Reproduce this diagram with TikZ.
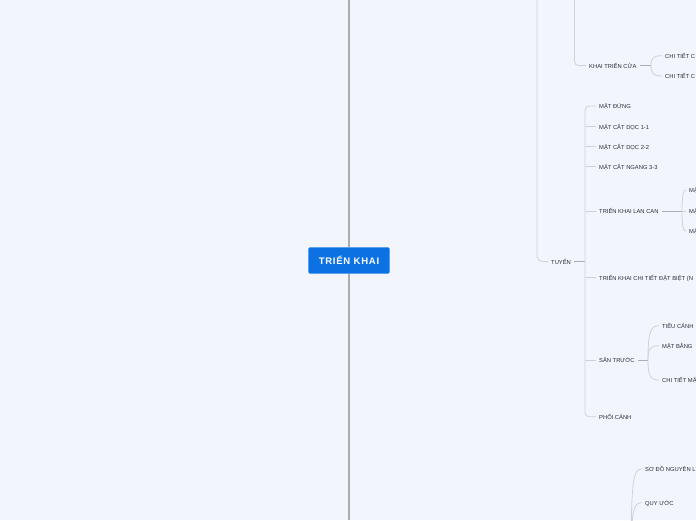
\documentclass[tikz,border=0pt]{standalone}
\usepackage{fontspec}
\setmainfont{Liberation Sans}
\newfontfamily\rootfont[LetterSpace=8]{Liberation Sans}
\definecolor{bg}{HTML}{F2F5FC}
\definecolor{txt}{HTML}{2A2D35}
\definecolor{linec}{HTML}{CDD1DA}
\definecolor{stubc}{HTML}{A9ADB5}
\definecolor{trunkc}{HTML}{ADADAD}
\definecolor{rootblue}{HTML}{0C72E3}
\begin{document}
\begin{tikzpicture}[x=1pt,y=-1pt,
  lbl/.style={anchor=west, font=\fontsize{5.8}{7}\selectfont, text=txt, inner xsep=3pt, inner ysep=0pt, text height=5.6pt, text depth=0pt},
  rootbox/.style={fill=rootblue, rounded corners=2pt, minimum width=81.4pt, minimum height=26.4pt, inner sep=0pt, text=white, font=\rootfont\bfseries\fontsize{9.5}{11}\selectfont},
  branch/.style={draw=linec, line width=0.8pt},
  stub/.style={draw=stubc, line width=1.2pt},
  trunk/.style={draw=trunkc, line width=2.8pt}]
\fill[bg] (0,0) rectangle (696,520);
\useasboundingbox (0,0) rectangle (696,520);
\clip (0,0) rectangle (696,520);

% nodes
\node[rootbox] (root) at (349,260.5) {TRIỂN KHAI};
\node[lbl] (khai) at (586,65.5) {KHAI TRIỂN CỬA};
\node[lbl] (ct1) at (662,55.7) {CHI TIẾT C};
\node[lbl] (ct2) at (662,76) {CHI TIẾT C};
\node[lbl] (tuyen) at (548,261.5) {TUYẾN};
\node[lbl] (md) at (596,106) {MẶT ĐỨNG};
\node[lbl] (mc1) at (596,126.7) {MẶT CẮT DỌC 1-1};
\node[lbl] (mc2) at (596,146.7) {MẶT CẮT DỌC 2-2};
\node[lbl] (mc3) at (596,166.7) {MẶT CẮT NGANG 3-3};
\node[lbl] (lc) at (596,211) {TRIỂN KHAI LAN CAN};
\node[lbl] (lc1) at (686,190) {MẶ};
\node[lbl] (lc2) at (686,211) {MẶ};
\node[lbl] (lc3) at (686,231) {MẶ};
\node[lbl] (ctdb) at (596,277.7) {TRIỂN KHAI CHI TIẾT ĐẶT BIỆT (N};
\node[lbl] (st) at (596,360) {SÂN TRƯỚC};
\node[lbl] (tc) at (659,325.7) {TIỂU CẢNH};
\node[lbl] (mb) at (659,345.7) {MẶT BẰNG};
\node[lbl] (ctm) at (659,380) {CHI TIẾT MẶ};
\node[lbl] (pc) at (596,416.7) {PHỐI CẢNH};
\node[lbl] (sd) at (642,469) {SƠ ĐỒ NGUYÊN LÝ};
\node[lbl] (qu) at (642,502.7) {QUY ƯỚC};

% coordinates
\coordinate (ctop) at (349,0);
\coordinate (cbot) at (349,520);
\coordinate (top1) at (537,0);
\coordinate (top2) at (574.5,0);
\coordinate (sp) at (585,261.5);
\coordinate (kj) at (651,65.5);
\coordinate (lcj) at (682,211);
\coordinate (stj) at (648,360);
\coordinate (bj) at (631,570);

% trunk
\draw[trunk] (ctop) -- (root.north);
\draw[trunk] (root.south) -- (cbot);

% connectors
\draw[branch, rounded corners=5pt] (top1) |- (tuyen.west);
\draw[branch, rounded corners=4pt] (top2) |- (khai.west);
\draw[stub] (tuyen.east) -- (sp);
\draw[branch, rounded corners=4pt] (md.west) -| (sp) |- (pc.west);
\foreach \n in {mc1,mc2,mc3,lc,ctdb,st} \draw[branch] (sp |- \n.west) -- (\n.west);

\draw[stub, line width=0.9pt] (khai.east) -- (kj);
\draw[branch] (kj) .. controls (651,58) and (653,55.7) .. (ct1.west);
\draw[branch] (kj) .. controls (651,73) and (653,76) .. (ct2.west);

\draw[stub, line width=0.9pt] (lc.east) -- (lcj);
\draw[branch] (lcj) -- (lc2.west);
\draw[branch] (lcj) .. controls (682,195) and (683.5,190) .. (lc1.west);
\draw[branch] (lcj) .. controls (682,227) and (683.5,231) .. (lc3.west);

\draw[stub, line width=0.9pt] (st.east) -- (stj);
\draw[branch] (stj) .. controls (648,331) and (651,325.7) .. (tc.west);
\draw[branch] (stj) .. controls (648,349) and (650,345.7) .. (mb.west);
\draw[branch] (stj) .. controls (648,375) and (650,380) .. (ctm.west);

\draw[branch] (bj) .. controls (631,478) and (633,469) .. (sd.west);
\draw[branch] (bj) .. controls (631,510) and (633,502.7) .. (qu.west);
\end{tikzpicture}
\end{document}
